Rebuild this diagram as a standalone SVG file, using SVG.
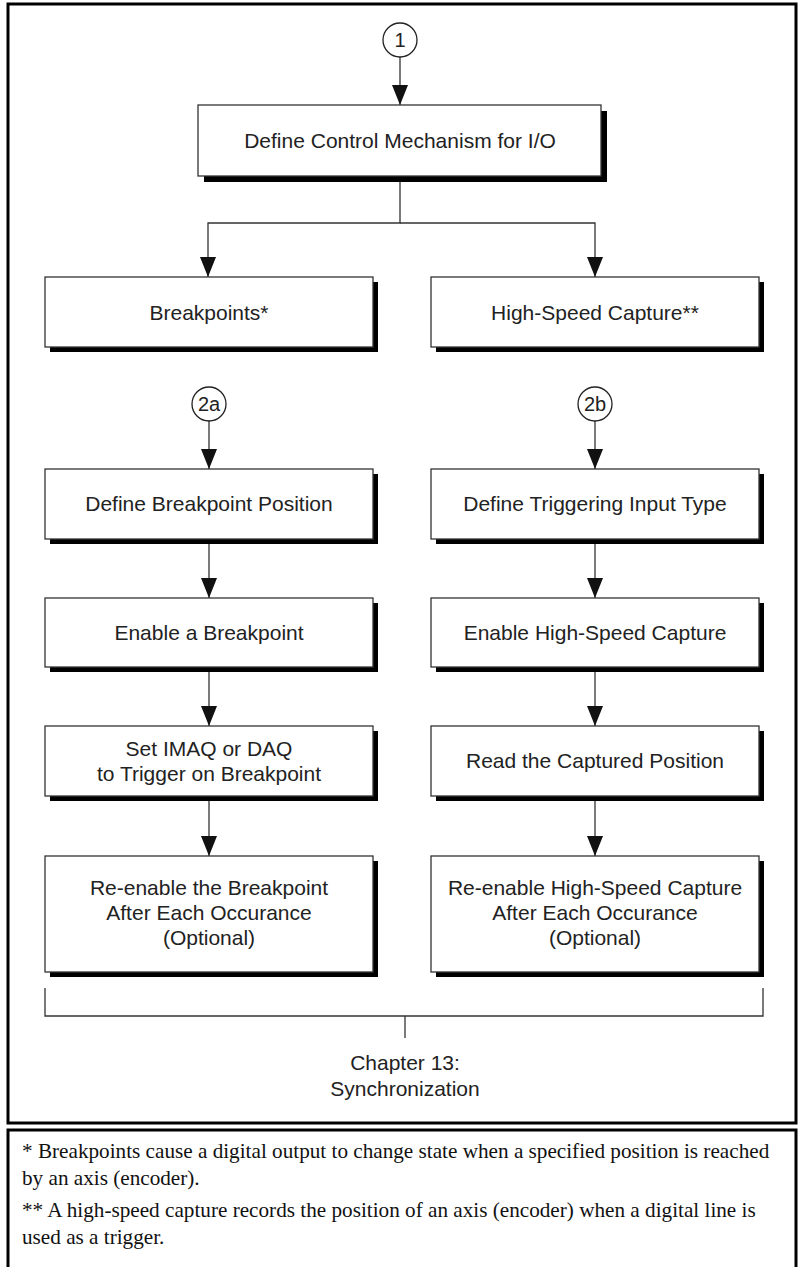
<svg xmlns="http://www.w3.org/2000/svg" width="801" height="1267" viewBox="0 0 801 1267">
  <style>
    .frame { fill: none; stroke: #000; stroke-width: 3; }
    .box { fill: #fff; stroke: #333; stroke-width: 1.3; }
    .shadow { fill: #000; }
    .ring { fill: #fff; stroke: #222; stroke-width: 1.3; }
    .wire { fill: none; stroke: #333; stroke-width: 1.3; }
    .lbl { font-family: "Liberation Sans", Arial, sans-serif; font-size: 21px; fill: #222; text-anchor: middle; }
    .num { font-family: "Liberation Sans", Arial, sans-serif; font-size: 20px; fill: #222; text-anchor: middle; }
    .note { font-family: "Liberation Serif", "Times New Roman", serif; font-size: 21.2px; fill: #111; }
  </style>
  <defs>
    <marker id="head" markerUnits="userSpaceOnUse" markerWidth="20" markerHeight="16" refX="20" refY="8" orient="auto" viewBox="0 0 20 16">
      <path d="M0,0 L20,8 L0,16 z" fill="#111"/>
    </marker>
  </defs>

  <rect id="background" x="0" y="0" width="801" height="1267" fill="#fff"/>

  <!-- outer frames -->
  <rect class="frame" x="8" y="4" width="788" height="1119"/>
  <rect class="frame" x="8" y="1130" width="788" height="150"/>

  <!-- connectors -->
  <g id="connectors">
    <line class="wire" x1="400" y1="57" x2="400" y2="105" marker-end="url(#head)"/>
    <path class="wire" d="M400,176 V223 H208 V277" marker-end="url(#head)"/>
    <path class="wire" d="M400,223 H595 V277" marker-end="url(#head)"/>

    <line class="wire" x1="209" y1="421" x2="209" y2="469" marker-end="url(#head)"/>
    <line class="wire" x1="209" y1="539" x2="209" y2="598" marker-end="url(#head)"/>
    <line class="wire" x1="209" y1="667" x2="209" y2="726" marker-end="url(#head)"/>
    <line class="wire" x1="209" y1="796" x2="209" y2="856" marker-end="url(#head)"/>

    <line class="wire" x1="595" y1="421" x2="595" y2="469" marker-end="url(#head)"/>
    <line class="wire" x1="595" y1="539" x2="595" y2="598" marker-end="url(#head)"/>
    <line class="wire" x1="595" y1="667" x2="595" y2="726" marker-end="url(#head)"/>
    <line class="wire" x1="595" y1="796" x2="595" y2="856" marker-end="url(#head)"/>

    <!-- closing bracket -->
    <path class="wire" d="M45,988 V1016 H763 V988"/>
    <line class="wire" x1="405" y1="1016" x2="405" y2="1038"/>
  </g>

  <!-- start markers -->
  <g id="step-1">
    <circle class="ring" cx="400" cy="40" r="17"/>
    <text class="num" x="400" y="47">1</text>
  </g>
  <g id="step-2a">
    <circle class="ring" cx="209" cy="404" r="17"/>
    <text class="num" x="209" y="411">2a</text>
  </g>
  <g id="step-2b">
    <circle class="ring" cx="595" cy="404" r="17"/>
    <text class="num" x="595" y="411">2b</text>
  </g>

  <!-- process boxes -->
  <g id="define-control">
    <rect class="shadow" x="204" y="111" width="403" height="71"/>
    <rect class="box" x="198" y="105" width="403" height="71"/>
    <text class="lbl" x="400" y="148">Define Control Mechanism for I/O</text>
  </g>

  <g id="breakpoints">
    <rect class="shadow" x="50" y="282" width="328" height="70"/>
    <rect class="box" x="45" y="277" width="328" height="70"/>
    <text class="lbl" x="209" y="320">Breakpoints*</text>
  </g>
  <g id="high-speed-capture">
    <rect class="shadow" x="436" y="282" width="328" height="70"/>
    <rect class="box" x="431" y="277" width="328" height="70"/>
    <text class="lbl" x="595" y="320">High-Speed Capture**</text>
  </g>

  <g id="define-breakpoint-position">
    <rect class="shadow" x="50" y="474" width="328" height="70"/>
    <rect class="box" x="45" y="469" width="328" height="70"/>
    <text class="lbl" x="209" y="511">Define Breakpoint Position</text>
  </g>
  <g id="enable-breakpoint">
    <rect class="shadow" x="50" y="603" width="328" height="69"/>
    <rect class="box" x="45" y="598" width="328" height="69"/>
    <text class="lbl" x="209" y="640">Enable a Breakpoint</text>
  </g>
  <g id="set-trigger">
    <rect class="shadow" x="50" y="731" width="328" height="70"/>
    <rect class="box" x="45" y="726" width="328" height="70"/>
    <text class="lbl" x="209" y="756">Set IMAQ or DAQ</text>
    <text class="lbl" x="209" y="781">to Trigger on Breakpoint</text>
  </g>
  <g id="reenable-breakpoint">
    <rect class="shadow" x="50" y="861" width="328" height="116"/>
    <rect class="box" x="45" y="856" width="328" height="116"/>
    <text class="lbl" x="209" y="895">Re-enable the Breakpoint</text>
    <text class="lbl" x="209" y="920">After Each Occurance</text>
    <text class="lbl" x="209" y="945">(Optional)</text>
  </g>

  <g id="define-trigger-input">
    <rect class="shadow" x="436" y="474" width="328" height="70"/>
    <rect class="box" x="431" y="469" width="328" height="70"/>
    <text class="lbl" x="595" y="511">Define Triggering Input Type</text>
  </g>
  <g id="enable-capture">
    <rect class="shadow" x="436" y="603" width="328" height="69"/>
    <rect class="box" x="431" y="598" width="328" height="69"/>
    <text class="lbl" x="595" y="640">Enable High-Speed Capture</text>
  </g>
  <g id="read-position">
    <rect class="shadow" x="436" y="731" width="328" height="70"/>
    <rect class="box" x="431" y="726" width="328" height="70"/>
    <text class="lbl" x="595" y="768">Read the Captured Position</text>
  </g>
  <g id="reenable-capture">
    <rect class="shadow" x="436" y="861" width="328" height="116"/>
    <rect class="box" x="431" y="856" width="328" height="116"/>
    <text class="lbl" x="595" y="895">Re-enable High-Speed Capture</text>
    <text class="lbl" x="595" y="920">After Each Occurance</text>
    <text class="lbl" x="595" y="945">(Optional)</text>
  </g>

  <g id="chapter-13">
    <text class="lbl" x="405" y="1070">Chapter 13:</text>
    <text class="lbl" x="405" y="1096">Synchronization</text>
  </g>

  <!-- footnotes -->
  <g id="footnotes">
    <text class="note" x="22" y="1158">* Breakpoints cause a digital output to change state when a specified position is reached</text>
    <text class="note" x="22" y="1185">by an axis (encoder).</text>
    <text class="note" x="22" y="1217">** A high-speed capture records the position of an axis (encoder) when a digital line is</text>
    <text class="note" x="22" y="1244">used as a trigger.</text>
  </g>
</svg>
